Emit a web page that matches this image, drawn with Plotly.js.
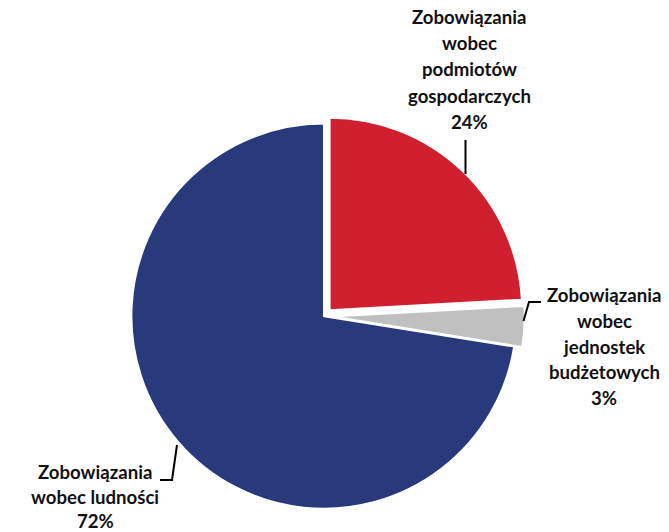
<!DOCTYPE html>
<html>
<head>
<meta charset="utf-8">
<script src="https://cdn.plot.ly/plotly-3.0.1.min.js"></script>
<style>html,body{margin:0;padding:0;background:#fff;}#chart{width:669px;height:532px;}</style>
</head>
<body>
<div id="chart"></div>
<script>
const categories = ["Zobowiązania<br>wobec<br>podmiotów<br>gospodarczych", "Zobowiązania<br>wobec<br>jednostek<br>budżetowych", "Zobowiązania<br>wobec ludności"];
const shares = [24.1, 3.4, 72.4];
const colors = ["#D01F2E", "#C0C0C0", "#283A7B"];
const pulls = [0.042, 0.042, 0];

const labelFont = {family: "Lato, 'Open Sans', sans-serif", size: 18.6, color: "#111"};

const trace = {
  type: "pie",
  labels: categories,
  values: shares,
  sort: false,
  direction: "clockwise",
  rotation: 0,
  pull: pulls,
  marker: {colors: colors, line: {color: "#ffffff", width: 2}},
  textinfo: "none",
  hoverinfo: "label+value",
  domain: {x: [0.1843, 0.7843], y: [0.0285, 0.783]},
  showlegend: false
};

// label block placement: center x, first line center y, line spacing (pixels)
const labelPos = [[469, 17, 26.2], [604, 295, 25.8], [95, 472, 24.5]];
const anns = [];
categories.forEach((c, i) => {
  const lines = (c + "<br>" + Math.round(shares[i]) + "%").split("<br>");
  const [cx, y0, dy] = labelPos[i];
  lines.forEach((ln, k) => {
    anns.push({
      text: "<b>" + ln + "</b>",
      showarrow: false,
      xref: "paper", yref: "paper",
      x: cx/669, y: 1 - (y0 + k*dy)/532,
      xanchor: "center", yanchor: "middle",
      font: labelFont
    });
  });
});

const lineStyle = {color: "#000", width: 2};
const px = v => v/669, py = v => 1 - v/532;
const shapes = [
  {type: "line", xref: "paper", yref: "paper", x0: px(465.5), y0: py(140), x1: px(465.5), y1: py(174), line: lineStyle},
  {type: "path", xref: "paper", yref: "paper", path: "M " + px(541) + "," + py(302) + " L " + px(529) + "," + py(302) + " L " + px(523.5) + "," + py(321), line: lineStyle},
  {type: "path", xref: "paper", yref: "paper", path: "M " + px(160) + "," + py(480) + " L " + px(172) + "," + py(480) + " L " + px(177) + "," + py(445), line: lineStyle}
];

const layout = {
  width: 669, height: 532,
  margin: {l: 0, r: 0, t: 0, b: 0},
  paper_bgcolor: "#ffffff",
  annotations: anns,
  shapes: shapes
};

Plotly.newPlot("chart", [trace], layout, {displayModeBar: false, staticPlot: true});
</script>
</body>
</html>
